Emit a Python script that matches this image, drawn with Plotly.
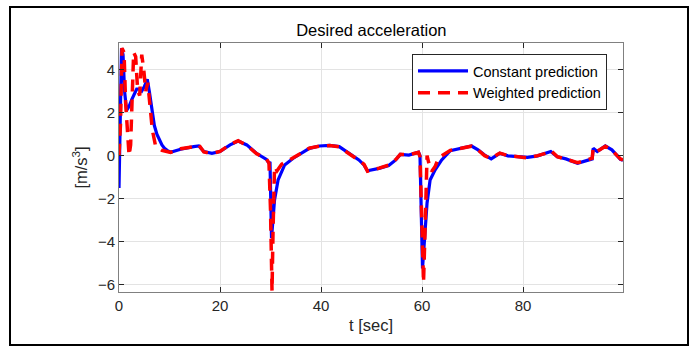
import plotly.graph_objects as go

# ---- data ----
t_const = [0, 0.2, 0.5, 0.8, 1.1, 1.5, 2.0, 2.5, 3.0, 3.5,
           4.0, 4.5, 5.0, 5.6, 6.0, 6.5, 7.0, 7.5, 8.0, 8.5,
           9.0, 9.5, 10.2, 12.2, 14.8, 15.8, 16.8, 18.4, 20.0, 22.0,
           23.6, 25.3, 27.2, 29.2, 29.7, 29.9, 30.2, 30.8, 31.5, 32.8,
           34.5, 36.1, 37.7, 39.7, 41.7, 43.6, 45.6, 47.5, 48.5, 49.2,
           51.5, 53.4, 54.8, 55.7, 57.4, 59.3, 59.6, 60.1, 61.0, 61.6,
           62.6, 63.9, 65.6, 67.2, 69.8, 71.1, 72.4, 73.7, 75.4, 77.0,
           79.0, 80.9, 82.9, 84.6, 85.5, 86.8, 88.5, 90.8, 92.4, 93.7,
           93.9, 94.7, 96.3, 97.6, 99.3, 99.8]
a_const = [-1.5, 1.0, 5.0, 4.7, 3.0, 2.1, 2.3, 2.6, 2.9, 3.1,
           3.1, 3.0, 3.2, 3.55, 3.0, 2.1, 1.4, 1.0, 0.7, 0.5,
           0.35, 0.25, 0.16, 0.3, 0.42, 0.45, 0.19, 0.11, 0.19, 0.5,
           0.68, 0.5, 0.11, -0.17, -0.35, -0.28, -3.84, -2.06, -1.13, -0.43,
           -0.12, 0.11, 0.34, 0.45, 0.48, 0.42, 0.11, -0.2, -0.43, -0.7,
           -0.59, -0.46, -0.2, 0.06, 0.03, 0.16, 0.0, -5.24, -2.2, -1.13,
           -0.66, -0.2, 0.23, 0.3, 0.45, 0.27, 0.03, -0.15, 0.11, -0.01,
           -0.05, -0.08, -0.01, 0.11, 0.19, -0.05, -0.15, -0.35, -0.23, -0.15,
           0.34, 0.19, 0.45, 0.27, -0.17, -0.22]

t_weight = [0, 0.3, 0.6, 1.0, 1.3, 1.6, 2.0, 2.3, 2.6, 2.9,
            3.3, 3.7, 4.1, 4.5, 4.9, 5.3, 5.7, 6.1, 6.6, 7.2,
            7.8, 8.5, 9.5, 10.2, 12.2, 14.8, 15.8, 16.8, 18.4, 20.0,
            22.0, 23.6, 25.3, 27.2, 29.2, 29.7, 30.0, 30.3, 30.5, 30.7,
            30.8, 31.3, 32.2, 34.5, 36.1, 37.7, 39.7, 41.7, 43.6, 45.6,
            47.5, 48.5, 49.2, 51.5, 53.4, 54.8, 55.7, 57.4, 59.3, 59.6,
            59.9, 60.3, 60.6, 60.9, 61.0, 61.3, 61.9, 62.6, 63.3, 65.6,
            67.2, 69.8, 71.1, 72.4, 73.7, 75.4, 77.0, 79.0, 80.9, 82.9,
            84.6, 85.5, 86.8, 88.5, 90.8, 92.4, 93.7, 93.9, 94.7, 96.3,
            97.6, 99.3, 99.8]
a_weight = [0.0, 1.5, 5.0, 4.8, 2.5, 1.2, 0.0, 0.5, 3.0, 4.8,
            4.6, 3.0, 2.8, 4.7, 4.0, 3.0, 3.4, 2.5, 1.2, 0.5,
            0.35, 0.25, 0.2, 0.15, 0.32, 0.42, 0.5, 0.17, 0.1, 0.2,
            0.52, 0.7, 0.48, 0.1, -0.15, -0.35, -2.5, -6.3, -3.5, -1.0,
            -0.5, -0.7, -0.4, -0.1, 0.12, 0.35, 0.44, 0.47, 0.41, 0.1,
            -0.22, -0.4, -0.72, -0.58, -0.44, -0.18, 0.06, 0.04, 0.15, -0.05,
            -3.0, -5.9, -3.5, -0.5, 0.0, -0.3, -0.74, -0.5, -0.1, 0.25,
            0.32, 0.44, 0.26, 0.0, -0.13, 0.12, 0.0, -0.04, -0.1, 0.0,
            0.12, 0.25, -0.05, -0.16, -0.33, -0.22, -0.12, 0.36, 0.2, 0.44,
            0.25, -0.15, -0.2]

x_ticks = [0, 20, 40, 60, 80]
y_ticks = [-6, -4, -2, 0, 2, 4]
x_range = [0, 99.8]
y_range = [-6.34, 5.24]

FONT = "Liberation Sans, Arial, sans-serif"

fig = go.Figure()
fig.add_trace(go.Scatter(x=t_const, y=a_const, mode="lines",
                         name="Constant prediction",
                         line=dict(color="#0000ff", width=3.2)))
fig.add_trace(go.Scatter(x=t_weight, y=a_weight, mode="lines",
                         name="Weighted prediction",
                         line=dict(color="#ff0000", width=3.5, dash="12px,8px")))

axis_common = dict(showline=True, linecolor="#808080", linewidth=1, mirror="ticks",
                   ticks="inside", ticklen=5, tickcolor="#262626",
                   showgrid=True, gridcolor="#e3e3e3", gridwidth=1,
                   zeroline=False, tickfont=dict(family=FONT, size=15, color="#262626"))

fig.update_layout(
    width=698, height=352,
    margin=dict(l=119, r=75, t=43, b=60),
    paper_bgcolor="white", plot_bgcolor="white",
    font=dict(family=FONT, color="#262626"),
    title=dict(text="Desired acceleration", x=0.532, xanchor="center",
               y=1 - 30 / 352, yanchor="middle",
               font=dict(family=FONT, size=16.5, color="#000000")),
    xaxis=dict(range=x_range, tickvals=x_ticks,
               title=dict(text="t [sec]", font=dict(family=FONT, size=16.5, color="#262626"),
                          standoff=6),
               **axis_common),
    yaxis=dict(range=y_range, tickvals=y_ticks,
               title=dict(text="[m/s<sup>3</sup>]", font=dict(family=FONT, size=16.5, color="#262626"),
                          standoff=6),
               **axis_common),
    legend=dict(x=(412 - 119) / 504, y=(292 - 54) / 249, xanchor="left", yanchor="top",
                bgcolor="white", bordercolor="#262626", borderwidth=1,
                font=dict(family=FONT, size=14.5, color="#000000"),
                tracegroupgap=0, itemwidth=50),
    showlegend=True,
)

# outer figure border
fig.add_shape(type="rect", xref="paper", yref="paper",
              x0=(10 - 119) / 504, x1=(688 - 119) / 504,
              y0=(292 - 345) / 249, y1=(292 - 7) / 249,
              line=dict(color="black", width=2), fillcolor="rgba(0,0,0,0)", layer="below")

fig.write_html("out.html")
